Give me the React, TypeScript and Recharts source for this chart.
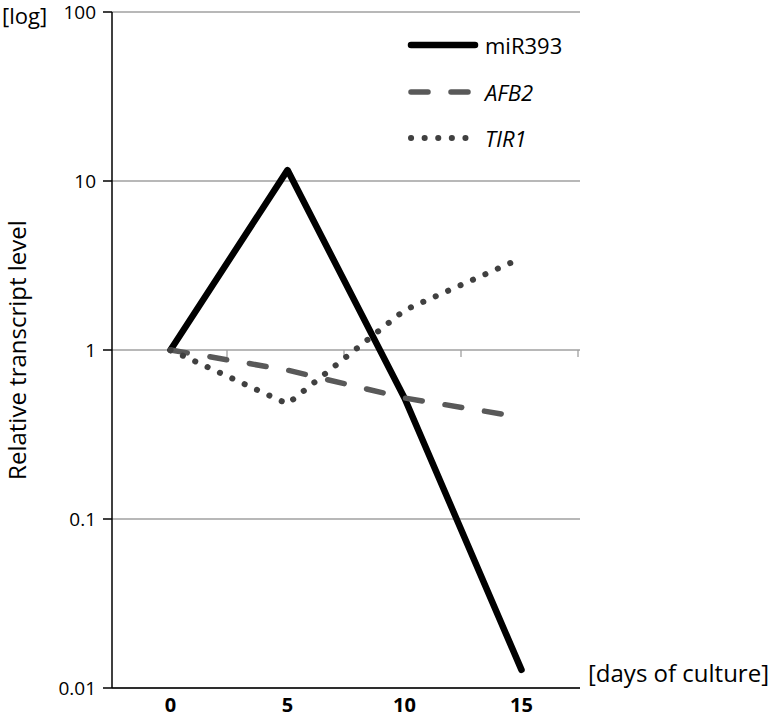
import React from "react";
import {
  LineChart,
  Line,
  XAxis,
  YAxis,
  CartesianGrid,
  ReferenceLine,
} from "recharts";

const days = ["0", "5", "10", "15"];
const mir393 = [1, 11.6, 0.52, 0.0128];
const afb2 = [1, 0.76, 0.52, 0.4];
const tir1 = [1, 0.48, 1.72, 3.5];
const yTicks = [0.01, 0.1, 1, 10, 100];

const data = days.map((d, i) => ({
  day: d,
  mir393: mir393[i],
  afb2: afb2[i],
  tir1: tir1[i],
}));

const FONT = "'Open Sans', 'Noto Sans', sans-serif";

const series = [
  { key: "mir393", name: "miR393", color: "#000000", width: 6.5, dash: undefined, italic: false },
  { key: "afb2", name: "AFB2", color: "#595959", width: 5.5, dash: "17 23", italic: true },
  { key: "tir1", name: "TIR1", color: "#404040", width: 6, dash: "0.1 13.5", italic: true },
];

const LegendBox = () => (
  <div style={{ fontFamily: FONT }}>
    {series.map((s) => (
      <div key={s.key} style={{ display: "flex", alignItems: "center", height: 46.5 }}>
        <svg width={76} height={12}>
          <line
            x1={6}
            y1={6}
            x2={70}
            y2={6}
            stroke={s.color}
            strokeWidth={s.width}
            strokeDasharray={s.dash}
            strokeLinecap="round"
          />
        </svg>
        <span
          style={{
            fontSize: 22,
            marginLeft: 4,
            fontStyle: s.italic ? "italic" : "normal",
            color: "#000",
          }}
        >
          {s.name}
        </span>
      </div>
    ))}
  </div>
);

// small gray ticks hanging under the "1" gridline at the category boundaries
const OneLine = (props: any) => {
  const { x1, y1, x2 } = props;
  const ticks = [1, 2, 3, 4].map((i) => x1 + ((x2 - x1) * i) / 4);
  return (
    <g>
      {ticks.map((x, i) => (
        <line key={i} x1={x - 2} y1={y1} x2={x - 2} y2={y1 + 7} stroke="#a0a0a0" strokeWidth={1.3} />
      ))}
    </g>
  );
};

export default function App() {
  return (
    <div style={{ position: "absolute", left: 0, top: 0, width: 774, height: 718, background: "#fff" }}>
      <LineChart
        width={774}
        height={718}
        data={data}
        margin={{ top: 12, right: 194, left: 0, bottom: 0 }}
      >
        <CartesianGrid vertical={false} stroke="#a0a0a0" strokeWidth={1.3} />
        <XAxis
          dataKey="day"
          height={30}
          padding={{ left: 58.5, right: 58.5 }}
          axisLine={{ stroke: "#000", strokeWidth: 1.5 }}
          tickLine={false}
          tick={{ fill: "#000", fontSize: 20, fontWeight: 700, fontFamily: FONT }}
          tickMargin={4}
        />
        <YAxis
          scale="log"
          domain={[0.01, 100]}
          ticks={yTicks}
          allowDataOverflow
          width={112}
          axisLine={{ stroke: "#000", strokeWidth: 1.5 }}
          tickLine={{ stroke: "#000", strokeWidth: 1.5 }}
          tickSize={9}
          tickMargin={7}
          tickFormatter={(v: number) => String(v)}
          tick={{ fill: "#000", fontSize: 19, fontFamily: FONT }}
          label={{
            value: "Relative transcript level",
            angle: -90,
            position: "insideLeft",
            dx: 12,
            dy: 0,
            style: { fill: "#000", fontSize: 24, fontFamily: FONT, textAnchor: "middle" },
          }}
        />
        <ReferenceLine y={1} stroke="none" shape={OneLine} />
        {series.map((s) => (
          <Line
            key={s.key}
            dataKey={s.key}
            name={s.name}
            stroke={s.color}
            strokeWidth={s.width}
            strokeDasharray={s.dash}
            strokeLinecap="round"
            strokeLinejoin="round"
            dot={false}
            activeDot={false}
            isAnimationActive={false}
          />
        ))}
      </LineChart>
      <div style={{ position: "absolute", top: 22, left: 405, width: 200 }}>
        <LegendBox />
      </div>
      <div
        style={{ position: "absolute", left: 2, top: 0, fontFamily: FONT, fontSize: 22, lineHeight: "30px" }}
      >
        [log]
      </div>
      <div style={{ position: "absolute", left: 588, top: 656, fontFamily: FONT, fontSize: 24 }}>
        [days of culture]
      </div>
    </div>
  );
}
